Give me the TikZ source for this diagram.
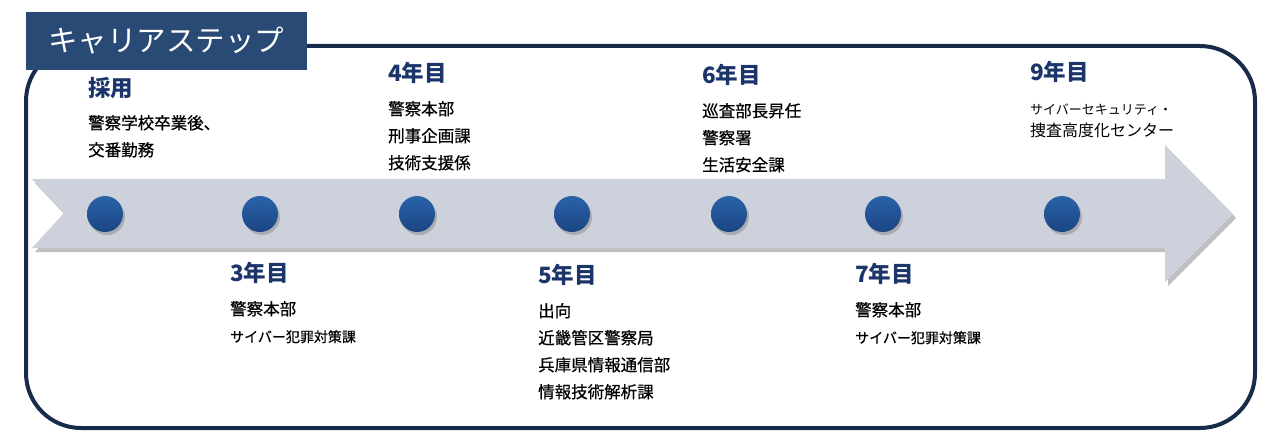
\documentclass[tikz,border=0pt]{standalone}
\usepackage{fontspec}
\setmainfont{Noto Sans CJK JP}
\usepackage{xcolor}
\usepackage{tikz}
\usetikzlibrary{shadows, positioning}

\definecolor{framenavy}{HTML}{172B4A}
\definecolor{tabblue}{HTML}{284A74}
\definecolor{headblue}{HTML}{1B356A}
\definecolor{arrowgrey}{HTML}{CDD1DC}
\definecolor{dottop}{HTML}{2A62A8}
\definecolor{dotbottom}{HTML}{1A4583}

\begin{document}
\begin{tikzpicture}[x=1pt, y=-1pt,
		yearlabel/.style={anchor=west, inner sep=0pt, text=headblue, font=\fontsize{22.5}{22.5}\selectfont\bfseries},
		desctext/.style={anchor=north west, inner sep=0pt, align=left,
			font=\fontsize{16.5}{27}\selectfont\addfontfeatures{FakeBold=0.6}},
		stepdot/.style={circle, minimum size=36pt, inner sep=0pt, top color=dottop, bottom color=dotbottom,
			drop shadow={shadow xshift=2pt, shadow yshift=-3pt, opacity=.45}}]
		\useasboundingbox (0,0) rectangle (1270,444);

		% Frame
		\draw[framenavy, line width=4pt, rounded corners=55pt] (26,46) rectangle (1255,428);

		% Arrow band
		\fill[arrowgrey, drop shadow={shadow xshift=3pt, shadow yshift=-4pt, opacity=.5}]
			(32,179) -- (1165,179) -- (1165,145) -- (1233,214) -- (1165,282) -- (1165,248) -- (32,248) -- (64,213) -- cycle;

		% Title tab
		\node[fill=tabblue, text=white, minimum width=281pt, minimum height=58pt, inner sep=0pt,
			font=\fontsize{29.5}{29.5}\selectfont] (title) at (166.5,41) {キャリアステップ};

		% Step dots
		\foreach \x/\n in {105/dot1, 260/dot3, 417/dot4, 572/dot5, 729/dot6, 883/dot7, 1062/dot9}
			\node[stepdot] (\n) at (\x,214) {};

		% Steps above the arrow
		\node[yearlabel] (hire) at (88,88) {採用};
		\node[desctext, below=16pt of hire.south west, anchor=north west] (hiretext) {警察学校卒業後、\\交番勤務};

		\node[yearlabel] (year4) at (388,73) {4年目};
		\node[desctext, below=17pt of year4.south west, anchor=north west] (year4text) {警察本部\\刑事企画課\\技術支援係};

		\node[yearlabel] (year6) at (702,75) {6年目};
		\node[desctext, below=17pt of year6.south west, anchor=north west] (year6text) {巡査部長昇任\\警察署\\生活安全課};

		\node[yearlabel] (year9) at (1030,72) {9年目};
		\node[desctext, font=\fontsize{16}{22}\selectfont, below=21pt of year9.south west, anchor=north west] (year9text)
			{{\fontsize{13}{22}\selectfont サイバーセキュリティ・}\\捜査高度化センター};

		% Steps below the arrow
		\node[yearlabel] (year3) at (230,273) {3年目};
		\node[desctext, below=17pt of year3.south west, anchor=north west] (year3text)
			{警察本部\\{\fontsize{14}{27}\selectfont サイバー犯罪対策課}};

		\node[yearlabel] (year5) at (538,275) {5年目};
		\node[desctext, below=17pt of year5.south west, anchor=north west] (year5text)
			{出向\\近畿管区警察局\\兵庫県情報通信部\\情報技術解析課};

		\node[yearlabel] (year7) at (855,274) {7年目};
		\node[desctext, below=17pt of year7.south west, anchor=north west] (year7text)
			{警察本部\\{\fontsize{14}{27}\selectfont サイバー犯罪対策課}};
	\end{tikzpicture}
\end{document}
